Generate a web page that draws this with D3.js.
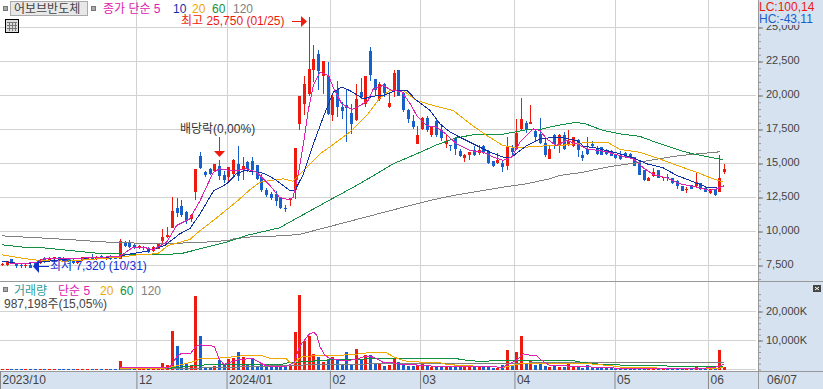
<!DOCTYPE html>
<html>
<head>
<meta charset="utf-8">
<script src="https://cdn.jsdelivr.net/npm/d3@7"></script>
<style>
    html, body { margin: 0; padding: 0; background: #fff; }
    svg { display: block; }
    text { font-family: "Liberation Sans", "Noto Sans CJK KR", sans-serif; font-size: 12px; }
</style>
</head>
<body>
<svg id="chart" width="823" height="389"></svg>
<script>
// Daily prices, one entry per trading day (2023/10 .. 06/07)
const opens = [
    7600, 7570, 7960, 7670, 7570, 7500, 7570, 7670, 7670, 8060, 7820, 7990, 8090, 8060, 8010, 7920, 7670, 7920, 8010, 8110,
    8010, 8210, 7990, 8160, 8110, 7990, 9190, 9140, 9040, 8850, 8800, 8770, 8550, 8720, 9290, 9630, 10270, 11740, 11910, 11400,
    10910, 12890, 15560, 14360, 14580, 14440, 14850, 14190, 13990, 14240, 14930, 14530, 15100, 15170, 14880, 14040, 13060, 12790, 12790, 12430,
    11760, 12280, 13015, 17920, 19340, 20120, 21910, 23060, 21420, 21470, 18530, 20370, 19190, 19310, 18700, 18210, 20290, 19340, 23240, 21180,
    19760, 20860, 19190, 20370, 21840, 20200, 18900, 18090, 16450, 17550, 18360, 17130, 18110, 17480, 16420, 16350, 16890, 15910, 15370, 15660,
    15960, 15780, 16320, 15880, 15150, 15020, 15070, 14850, 16150, 16080, 17550, 18010, 17890, 17380, 17180, 16540, 15320, 17060, 16320, 17060,
    16400, 16270, 16740, 15590, 16030, 16450, 16130, 16250, 16000, 15810, 15610, 15560, 15780, 15710, 15470, 15120, 14490, 13750, 14090, 14490,
    13950, 14040, 13920, 13750, 13310, 13110, 13430, 13310, 13550, 13190, 12820, 13090, 12890, 14340
];
const closes = [
    7620, 7820, 7770, 7470, 7430, 7520, 7340, 7380, 7920, 7770, 8060, 8090, 7870, 7820, 7820, 7670, 7870, 8110, 8110, 7970,
    8160, 8060, 8110, 7990, 8010, 9290, 8950, 8850, 8800, 8900, 8850, 8480, 8850, 9140, 9630, 9730, 11540, 11350, 11250, 10810,
    11250, 14630, 14680, 14120, 14240, 14980, 14090, 13800, 14730, 15290, 14090, 14850, 14610, 14530, 13870, 13060, 12650, 12430, 12210, 11760,
    11690, 12430, 16150, 19930, 20810, 21960, 22650, 21790, 22570, 18650, 19880, 19140, 18850, 19070, 17920, 19710, 19880, 21470, 21540, 20370,
    20860, 20170, 19480, 21670, 19930, 18900, 18240, 17700, 17060, 18330, 17430, 17650, 17130, 16890, 16620, 16320, 16030, 15540, 15660, 15860,
    15610, 15960, 15760, 15070, 14850, 15250, 14730, 16270, 15880, 17230, 18280, 17480, 18060, 16940, 16490, 15660, 16050, 16450, 17060, 16030,
    16640, 16980, 15960, 15420, 15710, 16270, 15710, 15660, 15710, 15560, 15370, 15320, 15510, 15420, 14850, 14190, 13800, 13950, 14340, 13950,
    14020, 13950, 13550, 13380, 13010, 13160, 13160, 13630, 13110, 12940, 13090, 12650, 13950, 14630
];
const highs = [
    7720, 7840, 7990, 7720, 7620, 7620, 7620, 7720, 7990, 8110, 8110, 8160, 8160, 8110, 8060, 7990, 7920, 8160, 8160, 8310,
    8210, 8260, 8160, 8240, 8160, 9440, 9290, 9340, 9090, 8990, 8920, 8850, 8900, 9190, 10170, 10320, 12570, 12470, 12350, 11540,
    11300, 14630, 15810, 14440, 14680, 14980, 15270, 14440, 14730, 15340, 16320, 15470, 15220, 15510, 14880, 14240, 13210, 12940, 13010, 12500,
    11980, 12430, 16150, 19930, 21400, 25750, 23680, 23310, 22570, 22500, 20120, 21100, 19510, 20370, 19390, 20810, 21300, 21470, 23600, 21180,
    20980, 20910, 20250, 21840, 21840, 20250, 19020, 18600, 17790, 18410, 18460, 17670, 18280, 17920, 17180, 16350, 16940, 16080, 15710, 15860,
    16320, 16370, 16370, 15960, 15220, 15780, 15220, 16940, 16370, 18240, 19830, 18160, 19310, 17550, 18360, 16810, 16320, 17180, 17180, 17300,
    17500, 16980, 16810, 15910, 16940, 16620, 16320, 16250, 16030, 15960, 15660, 15910, 15810, 15760, 15510, 15220, 14530, 14040, 14680, 14530,
    14040, 14240, 13970, 13800, 13380, 13260, 13450, 14290, 13600, 13260, 13140, 13140, 15660, 14930
];
const lows = [
    7430, 7430, 7720, 7350, 7350, 7350, 7340, 7320, 7620, 7720, 7770, 7820, 7820, 7740, 7770, 7620, 7620, 7820, 7870, 7920,
    7920, 7970, 7870, 7920, 7970, 7970, 8850, 8800, 8750, 8700, 8650, 8430, 8500, 8680, 9090, 9530, 10240, 11050, 11100, 10560,
    10680, 12280, 14580, 14040, 14190, 14390, 13800, 13550, 13750, 13990, 13750, 13800, 14360, 14120, 13820, 12890, 12520, 12280, 11910, 11690,
    11400, 11910, 12400, 17430, 18600, 20000, 20980, 20370, 20120, 18530, 18110, 18410, 18280, 16570, 17180, 18160, 19750, 19140, 21100, 20000,
    19630, 19880, 19090, 19880, 19930, 18820, 17960, 17550, 16400, 17480, 17300, 16940, 16940, 16690, 16150, 15910, 15660, 15510, 15120, 15290,
    15540, 15660, 15710, 14980, 14710, 14980, 14410, 14530, 15460, 16000, 17480, 17230, 17870, 16570, 16450, 15470, 15320, 16080, 15760, 15960,
    16320, 16250, 15470, 15170, 15660, 16200, 15660, 15590, 15660, 15520, 15320, 15270, 15420, 15370, 14830, 14120, 13750, 13680, 13990, 13920,
    13680, 13680, 13500, 13160, 12990, 12820, 13140, 13260, 13060, 12890, 12770, 12600, 12870, 14220
];
// Daily volume, thousands of shares
const volumes = [
    200, 150, 150, 150, 150, 150, 150, 200, 150, 150, 150, 150, 150, 150, 150, 150, 150, 150, 150, 150,
    150, 150, 150, 150, 150, 2875, 300, 250, 200, 200, 150, 150, 200, 300, 2185, 1495, 13225, 8050, 3910, 1725,
    1265, 25300, 11500, 920, 920, 1265, 3220, 1725, 3565, 3800, 5980, 4370, 1725, 3800, 920, 2070, 920, 920, 920, 920,
    920, 1495, 12880, 25645, 9890, 11500, 5290, 4255, 2530, 3105, 4255, 3450, 1725, 5980, 1725, 7015, 3450, 4945, 4945, 1725,
    1725, 1150, 1610, 4025, 2530, 1495, 1265, 1150, 1495, 1955, 1495, 920, 920, 920, 920, 920, 1265, 920, 805, 805,
    805, 690, 920, 805, 575, 575, 1495, 6670, 1495, 5980, 11500, 1725, 2875, 1495, 1955, 1150, 805, 1495, 805, 805,
    1840, 805, 805, 460, 1495, 575, 575, 575, 575, 345, 345, 345, 345, 345, 345, 345, 345, 460, 575, 345,
    345, 345, 345, 345, 345, 460, 345, 805, 345, 345, 345, 345, 6670, 987
];

// Moving averages as [day index, value]
const ma5 = [[1.7,7670],[3.8,7620],[7.4,7740],[8.8,7990],[13.7,7990],[20.8,8110],[25,8160],[27.8,8850],[30,8850],[32,8650],[34.9,9220],[37,10440],[39.8,10930],[42,12280],[44.8,14360],[46.2,14610],[49,14440],[51.8,14610],[54,14360],[56.8,13380],[58.8,12520],[60.7,12330],[61.7,12520],[62.8,14240],[63.9,16450],[64.9,18900],[66,20740],[67.4,21720],[69.2,21470],[70.2,20610],[72,19390],[74.1,18970],[75.9,19270],[77.6,19630],[78.7,20490],[80.8,20740],[82.6,20370],[84.7,20290],[86.5,19390],[87.9,18530],[90,17790],[92.1,17670],[94.2,17130],[96.3,16450],[99.2,15960],[102,15830],[104.1,15470],[106.2,15220],[108,15470],[109.8,16570],[112.6,17550],[114,17430],[115.4,16810],[117.5,16320],[119.6,16690],[121.8,16450],[123.9,16080],[127.4,15910],[131,15590],[133.8,15340],[135.9,14680],[138,14190],[140.8,13950],[143.7,13500],[147.2,13260],[150,13020],[151.4,13140],[153,13360]];
const ma10 = [[0,7820],[4,7620],[8,7740],[14,7990],[25,8160],[26.5,8310],[30.6,8550],[34.5,8970],[37.7,9830],[39.8,10200],[42,11300],[44.8,12970],[47.6,13500],[49.7,14240],[51.5,14490],[55.4,14290],[56.8,14040],[58.2,13750],[61,13020],[62.1,13020],[63.9,14240],[66,16450],[68.1,18410],[70.2,20250],[72,20610],[73.7,20370],[76.6,19760],[79.4,20000],[80.8,20000],[83.6,20370],[85.8,20370],[87.9,19630],[90.7,18900],[92.8,17920],[95,17300],[97,16940],[100.6,16320],[103.4,15830],[106.2,15470],[108,15470],[111.2,16320],[114,16810],[116.1,16890],[118.9,16890],[121.8,16690],[123.2,16280],[126,16130],[130.2,15780],[133.8,15420],[136.6,14980],[140.1,14680],[143,14120],[145.8,13750],[149.3,13260],[151.8,13190],[153,13360]];
const ma20 = [[0,8280],[3.8,8060],[8,7870],[13.7,7820],[25,8110],[29.2,8310],[33,8360],[35.2,8970],[39.8,9410],[42,10070],[44.8,10810],[48.3,11790],[50.4,12400],[52.5,13060],[54.7,13630],[56.8,13750],[59.6,13870],[61.7,13700],[64.6,14730],[67.4,15710],[69.9,16320],[73.7,17300],[77.3,18530],[80.1,19830],[82.2,20370],[85,20370],[87.9,19630],[92.1,19190],[95.6,18900],[99.2,17920],[102.7,17060],[106.2,16320],[109.1,16150],[114,16280],[118.2,16320],[123.2,16520],[128.5,16520],[131,16030],[135.2,15830],[138.7,15420],[143.7,14780],[147.2,14360],[150.7,13870],[152.8,13650]];
const ma60 = [[0,9020],[4.5,8850],[8.8,8800],[14.4,8600],[20,8410],[28,8310],[35,8310],[38.4,8410],[43.4,8850],[47.6,9220],[51.8,9710],[58.8,10270],[69.9,12400],[74.5,13260],[79.4,14240],[82.9,14980],[87.9,15710],[92.1,16370],[96.3,16890],[99.9,17110],[106.2,17160],[111.2,17480],[114,17500],[117.5,17790],[121.1,17990],[123.2,17970],[127.4,17430],[131,17180],[135.2,16990],[138.7,16540],[143.7,15960],[145.8,15760],[149.3,15520],[152.8,15270]];
const ma120 = [[0,9680],[8,9530],[15,9390],[21,9240],[29,9140],[35,9120],[42,9190],[48,9340],[49,9460],[53,9610],[59,9680],[63,9780],[69.5,10370],[84,11690],[91.3,12330],[96.4,12700],[100.6,12940],[106.2,13260],[111.2,13510],[116.1,13880],[118.2,14120],[123.2,14360],[128.1,14730],[133.8,15020],[138,15270],[142.2,15520],[145.8,15660],[152.1,15860]];
const volMa5 = [[25,805],[29.4,805],[35.2,575],[36,1495],[37,4370],[38,5520],[40,5520],[41,7820],[42,8510],[44,8170],[45,8050],[46,3800],[47,1730],[49,2880],[50,3340],[53,3800],[55,2070],[56,1270],[58,1040],[60,920],[61,1730],[62,2420],[63,7820],[64,9890],[65,12080],[66,12880],[66.7,11850],[67.4,7820],[68.4,4950],[69.5,3800],[71.6,3220],[73.7,3220],[75.1,3450],[76.6,4370],[78,4600],[79.4,3800],[80.8,2420],[82.9,2300],[85,1730],[88.6,1500],[92.1,1040],[103.4,920],[106.2,810],[107,1500],[109,3220],[110.5,5410],[111.9,4950],[113.3,4720],[114.3,3220],[116,1500],[121.7,1040],[124.2,920],[128,580],[137.2,230],[146.4,230],[151,690],[152,1270],[153,1730]];
const volMa20 = [[25,230],[33,230],[35,580],[38,1610],[41,2880],[42,3800],[45,3800],[47.6,4140],[51.5,4830],[55,4830],[56.8,3800],[60.2,3800],[61,2420],[61.9,2070],[63,3800],[64,4600],[70.9,4830],[74.4,5180],[76.6,5520],[78.3,5980],[81.2,5980],[83.3,4140],[85,3110],[86.4,2760],[90,2420],[92.5,2420],[94.2,1730],[98.5,1270],[103.4,1040],[106.2,690],[109,1730],[110.5,2070],[121.7,2070],[124.5,1960],[129.3,1270],[131.6,690],[138.7,690],[139,230],[150.7,230],[153,690]];
const volMa60 = [[35,350],[41.6,1500],[47.6,1730],[59,1730],[61,2420],[64,2650],[69.5,3340],[75,3570],[83.4,3800],[96.5,3800],[97,3450],[100.6,2880],[106.2,2990],[110.5,3110],[121,3110],[121.7,2760],[124.5,2190],[127.3,1730],[134.4,1380],[142.9,1150],[152.8,1150]];
const volMa120 = [[25,120],[45,580],[62,1500],[80,1960],[92,1960],[124.5,2420],[153,2420]];

// Axis ticks
const priceTicks = [7500, 10000, 12500, 15000, 17500, 20000, 22500, 25000];
const priceMinorTicks = d3.range(5500, 27500, 500);
const volumeTicks = [10000, 20000];
const volumeMinorTicks = d3.range(0, 28000, 2000);
const monthLabels = ["2023/10", "12", "2024/01", "02", "03", "04", "05", "06"];
const monthPositions = [-0.4, 28.5, 47.6, 69.5, 88.6, 108.6, 129.8, 149.6];

const red = "#ee1a0e", blue = "#1760cc", band = "#d6e2f0", gridColor = "#d2d2d2", axisColor = "#999", labelColor = "#444";
const magenta = "#e020b0", navy = "#1030a8", orange = "#f0a800", green = "#109040", gray = "#808080";

const width = 823, height = 389, plotRight = 758;

const svg = d3.select("#chart");

// Scales
const x = d3.scaleLinear().domain([0, 153]).range([1.9, 724]);
const y = d3.scaleLinear().domain([7500, 25000]).range([265.5, 27.5]);
const yVol = d3.scaleLinear().domain([0, 20000]).range([369.5, 311.5]);

// Right and bottom bands
svg.append("rect").attr("x", plotRight).attr("y", 0).attr("width", width - plotRight).attr("height", height).attr("fill", band);
svg.append("rect").attr("x", 0).attr("y", 371).attr("width", width).attr("height", height - 371).attr("fill", band);

// Gridlines
const grid = svg.append("g").attr("shape-rendering", "crispEdges").attr("stroke", gridColor);
grid.selectAll(".v").data(monthPositions.slice(1)).enter().append("line")
    .attr("x1", d => Math.round(x(d)) + 0.5).attr("x2", d => Math.round(x(d)) + 0.5)
    .attr("y1", 0).attr("y2", 371);
grid.selectAll(".h").data(priceTicks).enter().append("line")
    .attr("x1", 0).attr("x2", plotRight - 2)
    .attr("y1", d => y(d)).attr("y2", d => y(d));
grid.selectAll(".hv").data([0].concat(volumeTicks)).enter().append("line")
    .attr("x1", 0).attr("x2", plotRight - 2)
    .attr("y1", d => yVol(d)).attr("y2", d => yVol(d));

// Panel separators
svg.append("line").attr("x1", 0).attr("x2", width).attr("y1", 281.5).attr("y2", 281.5).attr("stroke", axisColor);
svg.append("line").attr("x1", 0).attr("x2", width).attr("y1", 371.5).attr("y2", 371.5).attr("stroke", axisColor);
svg.append("line").attr("x1", plotRight + 0.5).attr("x2", plotRight + 0.5).attr("y1", 0).attr("y2", height).attr("stroke", axisColor);

const candleColor = i => closes[i] >= opens[i] ? red : blue;

// Volume bars
svg.append("g").attr("shape-rendering", "crispEdges")
    .selectAll("rect").data(volumes).enter().append("rect")
    .attr("x", (d, i) => Math.round(x(i)) - 1)
    .attr("width", 3)
    .attr("y", d => yVol(d))
    .attr("height", d => yVol(0) - yVol(d))
    .attr("fill", (d, i) => candleColor(i));

// Candles
const candles = svg.append("g").attr("shape-rendering", "crispEdges")
    .selectAll("g").data(opens).enter().append("g");
candles.append("line")
    .attr("x1", (d, i) => Math.round(x(i)) + 0.5).attr("x2", (d, i) => Math.round(x(i)) + 0.5)
    .attr("y1", (d, i) => y(highs[i])).attr("y2", (d, i) => y(lows[i]))
    .attr("stroke", (d, i) => candleColor(i));
candles.append("rect")
    .attr("x", (d, i) => Math.round(x(i)) - 1)
    .attr("width", 3)
    .attr("y", (d, i) => y(Math.max(opens[i], closes[i])))
    .attr("height", (d, i) => Math.max(1, Math.abs(y(opens[i]) - y(closes[i]))))
    .attr("fill", (d, i) => candleColor(i));

// Moving average lines, aliased like the original
function drawLine(points, scale, color) {
    const line = d3.line().x(d => x(d[0])).y(d => scale(d[1]));
    svg.append("path")
        .attr("d", line(points))
        .attr("fill", "none")
        .attr("stroke", color)
        .attr("stroke-width", 1)
        .attr("shape-rendering", "crispEdges");
}
drawLine(ma120, y, gray);
drawLine(ma60, y, green);
drawLine(ma20, y, orange);
drawLine(ma10, y, navy);
drawLine(ma5, y, magenta);
drawLine(volMa120, yVol, gray);
drawLine(volMa60, yVol, green);
drawLine(volMa20, yVol, orange);
drawLine(volMa5, yVol, magenta);

// Right axes
function drawAxis(scale, minor, major, format, top, bottom, labelDy) {
    const inRange = minor.filter(d => scale(d) >= top && scale(d) <= bottom);
    const minorAxis = d3.axisRight(scale).tickValues(inRange).tickSize(3).tickFormat("");
    const g = svg.append("g").attr("transform", `translate(${plotRight},0)`).call(minorAxis);
    g.select(".domain").remove();
    g.selectAll("line").attr("stroke", axisColor);
    const majorAxis = d3.axisRight(scale).tickValues(major).tickSize(5).tickPadding(3).tickFormat(format);
    const m = svg.append("g").attr("transform", `translate(${plotRight},0)`).call(majorAxis);
    m.select(".domain").remove();
    m.selectAll("line").attr("stroke", "#777");
    m.selectAll("text").attr("fill", labelColor).attr("dy", labelDy).style("font-size", "11px").attr("font-family", null);
}
const comma = d3.format(",");
drawAxis(y, priceMinorTicks, priceTicks, d => comma(d), 24, 280, "0.17em");
drawAxis(yVol, volumeMinorTicks, volumeTicks, d => comma(d) + "K", 284, 370, "0.23em");

// Bottom axis
const bottomAxis = d3.axisBottom(x).tickValues(monthPositions).tickSize(18)
    .tickFormat((d, i) => monthLabels[i]);
const bottomG = svg.append("g").attr("transform", "translate(0,371)").call(bottomAxis);
bottomG.select(".domain").remove();
bottomG.selectAll("line").attr("stroke", "#888");
bottomG.selectAll("text")
    .attr("text-anchor", "start").attr("x", 2).attr("y", 3.4).attr("dy", "0.8em")
    .attr("fill", labelColor).style("font-size", "12px");
addText(767, 384, "06/07", labelColor);

function addText(px, py, str, color, anchor) {
    return svg.append("text").attr("x", px).attr("y", py).attr("fill", color)
        .attr("text-anchor", anchor || "start").text(str);
}
function square(px, py) {
    svg.append("rect").attr("x", px + 0.5).attr("y", py + 0.5).attr("width", 4).attr("height", 4)
        .attr("fill", "#aaa").attr("stroke", "#777");
}

// Price header
square(3, 6);
svg.append("rect").attr("x", 10.5).attr("y", 1.5).attr("width", 77).attr("height", 14)
    .attr("fill", "#e8e8e8").attr("stroke", "#aaa");
addText(14, 13, "어보브반도체", "#444");
square(91, 6);
addText(103, 13, "종가 단순 5", magenta);
addText(173, 13, "10", navy);
addText(192, 13, "20", orange);
addText(212, 13, "60", green);
addText(233, 13, "120", gray);

// Table icon
const icon = svg.append("g").attr("shape-rendering", "crispEdges");
icon.append("rect").attr("x", 5.5).attr("y", 19.5).attr("width", 13).attr("height", 13).attr("fill", "#ddd").attr("stroke", "#000");
icon.selectAll(".c").data([9.5, 12.5, 15.5]).enter().append("line")
    .attr("x1", d => d).attr("x2", d => d).attr("y1", 22).attr("y2", 31).attr("stroke", "#777");
icon.selectAll(".r").data([22.5, 25.5, 28.5]).enter().append("line")
    .attr("x1", 7).attr("x2", 17).attr("y1", d => d).attr("y2", d => d).attr("stroke", "#777");

// LC / HC read-out, covers the top of the 25,000 label
svg.append("rect").attr("x", plotRight + 1).attr("y", 0).attr("width", width - plotRight - 1).attr("height", 25).attr("fill", band);
addText(759, 11, "LC:100,14", "#ee1a0e");
addText(759, 23, "HC:-43,11", blue);

// Volume header
square(3, 287);
addText(14, 295, "거래량", "#2e9c9c");
addText(58, 295, "단순 5", magenta);
addText(100, 295, "20", orange);
addText(120, 295, "60", green);
addText(141, 295, "120", gray);
addText(4, 308, "987,198주(15,05%)", "#444");

// Resize button
svg.append("rect").attr("x", 813).attr("y", 285).attr("width", 8).attr("height", 7).attr("fill", "#444");
svg.append("path").attr("d", "M815 287L819 290M819 287L815 290").attr("stroke", "#fff").attr("fill", "none");

// Annotations
addText(181, 25, "최고 25,750 (01/25)", red);
svg.append("line").attr("x1", 292).attr("x2", 302).attr("y1", 21.5).attr("y2", 21.5).attr("stroke", red);
svg.append("path").attr("d", "M301 16L307 21.5L301 27Z").attr("fill", red);

addText(50, 270, "최저 7,320 (10/31)", "#1030d0");
svg.append("line").attr("x1", 38).attr("x2", 49).attr("y1", 266.5).attr("y2", 266.5).attr("stroke", "#1030d0");
svg.append("path").attr("d", "M33 266.5L39 260L39 273Z").attr("fill", "#1030d0");

addText(180, 133, "배당락(0,00%)", "#333");
svg.append("line").attr("x1", 219.5).attr("x2", 219.5).attr("y1", 137).attr("y2", 152).attr("stroke", red);
svg.append("path").attr("d", "M214 151L225 151L219.5 157Z").attr("fill", red);
</script>
</body>
</html>
